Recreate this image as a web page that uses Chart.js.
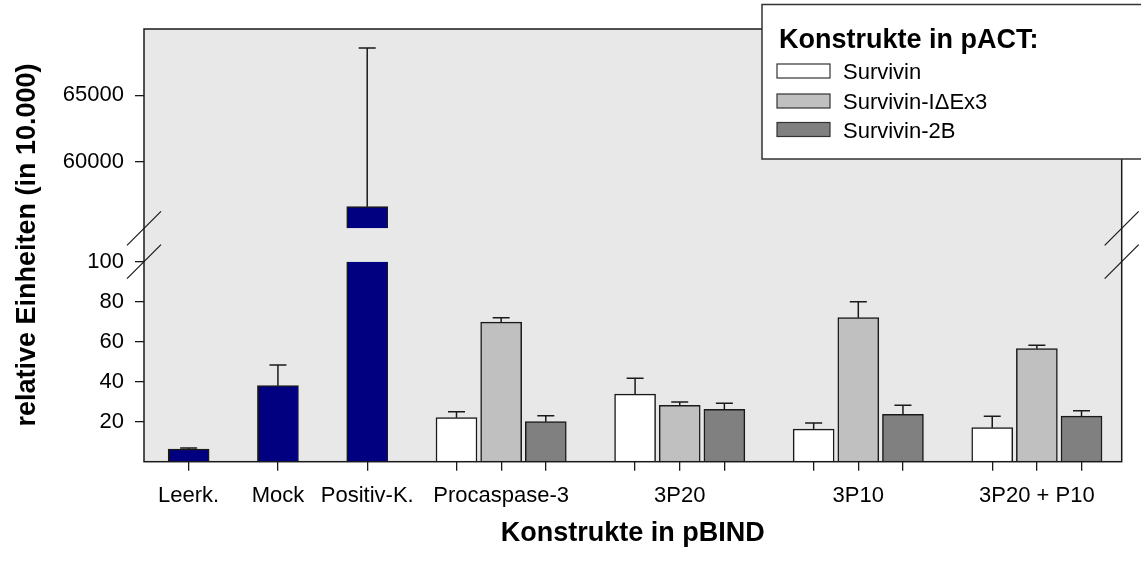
<!DOCTYPE html>
<html>
<head>
<meta charset="utf-8">
<script src="https://cdn.jsdelivr.net/npm/chart.js@4.4.1/dist/chart.umd.min.js"></script>
<style>
  html, body { margin: 0; padding: 0; background: #fff; overflow: hidden; }
  #wrap { width: 1141px; height: 565px; position: relative; }
</style>
</head>
<body>
<div id="wrap"><canvas id="c" width="1141" height="565"></canvas></div>
<script>
// Control constructs (single bars)
const controlLabels = ['Leerk.', 'Mock', 'Positiv-K.'];
const controlValues = [6.3, 38.0, 56630];
const controlErrors = [0.5, 10.3, 11940];

// pBIND constructs tested against three pACT partners
const groupLabels = ['Procaspase-3', '3P20', '3P10', '3P20 + P10'];
const seriesNames = ['Survivin', 'Survivin-I\u0394Ex3', 'Survivin-2B'];
const survivin        = [22.0, 33.8, 16.3, 17.0];
const survivinDEx3    = [69.8, 28.2, 72.0, 56.5];
const survivin2B      = [20.0, 26.2, 23.7, 22.8];
const survivinErr     = [3.0, 7.9, 3.0, 5.7];
const survivinDEx3Err = [2.2, 1.6, 8.0, 1.7];
const survivin2BErr   = [3.0, 3.0, 4.5, 2.7];

// Tick values of the two y segments
const lowerTicks = [20, 40, 60, 80, 100];
const upperTicks = [60000, 65000];

// ---- styling ----
const FONT = "'Liberation Sans', Arial, Helvetica, sans-serif";
const INK = '#1a1a1a';
const PLOT_BG = '#e8e8e8';
const controlColor = '#000080';
const seriesColors = ['#ffffff', '#c0c0c0', '#808080'];
const seriesValues = [survivin, survivinDEx3, survivin2B];
const seriesErrors = [survivinErr, survivinDEx3Err, survivin2BErr];

// slot layout on the x axis: controls every other slot, then groups of three
const controlSlot = i => 2 * i;
const groupSlot = (g, s) => 6 + 4 * g + s;

const barSlots = [];
const labelAt = new Map();
controlLabels.forEach((l, i) => { barSlots.push(controlSlot(i)); labelAt.set(controlSlot(i), l); });
groupLabels.forEach((l, g) => {
  for (let s = 0; s < 3; s++) barSlots.push(groupSlot(g, s));
  labelAt.set(groupSlot(g, 1), l);
});

function makeDatasets(axisId) {
  const sets = [{
    label: 'Kontrollen',
    yAxisID: axisId,
    data: controlValues.map((v, i) => ({ x: controlSlot(i), y: v })),
    errors: controlErrors,
    backgroundColor: controlColor
  }];
  seriesNames.forEach((name, s) => {
    sets.push({
      label: name,
      yAxisID: axisId,
      data: seriesValues[s].map((v, g) => ({ x: groupSlot(g, s), y: v })),
      errors: seriesErrors[s],
      backgroundColor: seriesColors[s]
    });
  });
  return sets;
}

const tickFont = { family: FONT, size: 22 };
const titleFont = { family: FONT, size: 27, weight: 'bold' };

// Each bar is drawn on both segments of the broken axis and clipped to its segment
const segmentClip = {
  id: 'segmentClip',
  beforeDatasetDraw(chart, args) {
    const ctx = chart.ctx;
    const ys = chart.scales[args.meta.yAxisID];
    const a = chart.chartArea;
    ctx.save();
    ctx.beginPath();
    ctx.rect(a.left, ys.top, a.right - a.left, ys.bottom - ys.top);
    ctx.clip();
  },
  afterDatasetDraw(chart, args) {
    const ctx = chart.ctx;
    const meta = args.meta;
    const ds = chart.data.datasets[args.index];
    const ys = chart.scales[meta.yAxisID];
    ctx.strokeStyle = INK;
    ctx.lineWidth = 1.5;
    meta.data.forEach((bar, i) => {
      const pt = ds.data[i];
      const yTop = ys.getPixelForValue(pt.y + ds.errors[i]);
      ctx.beginPath();
      ctx.moveTo(bar.x, bar.y);
      ctx.lineTo(bar.x, yTop);
      ctx.moveTo(bar.x - 8.5, yTop);
      ctx.lineTo(bar.x + 8.5, yTop);
      ctx.stroke();
    });
    ctx.restore();
  }
};

const plotBackground = {
  id: 'plotBackground',
  beforeDraw(chart) {
    const { ctx, chartArea: a } = chart;
    ctx.save();
    ctx.fillStyle = '#ffffff';
    ctx.fillRect(0, 0, chart.width, chart.height);
    ctx.fillStyle = PLOT_BG;
    ctx.fillRect(a.left, a.top, a.right - a.left, a.bottom - a.top);
    ctx.restore();
  }
};

const frameAndLegend = {
  id: 'frameAndLegend',
  afterDraw(chart) {
    const { ctx, chartArea: a } = chart;
    ctx.save();
    // plot frame
    ctx.strokeStyle = INK;
    ctx.lineWidth = 1.5;
    ctx.strokeRect(a.left, a.top, a.right - a.left, a.bottom - a.top);

    // axis break marks on both sides
    const breaks = [chart.scales.yUpper.bottom, chart.scales.y.top];
    ctx.lineWidth = 1.2;
    [a.left, a.right].forEach(x => {
      breaks.forEach(y => {
        ctx.beginPath();
        ctx.moveTo(x - 17, y + 17);
        ctx.lineTo(x + 17, y - 17);
        ctx.stroke();
      });
    });

    // legend box
    const bx = 762, by = 4.5, bw = 400, bh = 154.5;
    ctx.fillStyle = '#ffffff';
    ctx.fillRect(bx, by, bw, bh);
    ctx.strokeStyle = '#333333';
    ctx.lineWidth = 1.5;
    ctx.strokeRect(bx, by, bw, bh);

    ctx.fillStyle = '#000';
    ctx.textBaseline = 'alphabetic';
    ctx.textAlign = 'left';
    ctx.font = 'bold 27px ' + FONT;
    ctx.fillText('Konstrukte in pACT:', 779, 48);

    ctx.font = '22px ' + FONT;
    const baselines = [79, 109, 137.5];
    seriesNames.forEach((name, s) => {
      const yb = baselines[s];
      ctx.fillStyle = seriesColors[s];
      ctx.fillRect(777, yb - 15, 53, 14);
      ctx.strokeStyle = '#333333';
      ctx.lineWidth = 1.2;
      ctx.strokeRect(777, yb - 15, 53, 14);
      ctx.fillStyle = '#000';
      ctx.fillText(name, 843, yb);
    });
    ctx.restore();
  }
};

const yTickGrid = { drawOnChartArea: false, drawTicks: true, tickLength: 9, color: INK, lineWidth: 1.3 };

new Chart(document.getElementById('c'), {
  type: 'bar',
  data: { datasets: [...makeDatasets('yUpper'), ...makeDatasets('y')] },
  options: {
    responsive: false,
    devicePixelRatio: 1,
    animation: false,
    events: [],
    layout: { padding: { top: 29, right: 19.3, left: 0, bottom: 0 } },
    datasets: {
      bar: {
        grouped: false,
        barThickness: 41,
        borderColor: INK,
        borderWidth: 1.5,
        borderSkipped: 'start'
      }
    },
    plugins: { legend: { display: false }, tooltip: { enabled: false } },
    scales: {
      x: {
        type: 'linear',
        min: -1,
        max: 20.9,
        offset: false,
        afterBuildTicks: s => { s.ticks = barSlots.map(v => ({ value: v })); },
        afterFit: s => { s.height = 103.3; },
        ticks: {
          autoSkip: false,
          maxRotation: 0,
          minRotation: 0,
          padding: 12.5,
          color: '#000',
          font: tickFont,
          callback: v => labelAt.get(v) || ''
        },
        grid: { offset: false, drawOnChartArea: false, drawTicks: true, tickLength: 9, color: INK, lineWidth: 1.3 },
        border: { display: false },
        title: {
          display: true,
          text: 'Konstrukte in pBIND',
          color: '#000',
          font: titleFont,
          padding: { top: 0, bottom: 15 }
        }
      },
      yUpper: {
        type: 'linear',
        position: 'left',
        stack: 'yaxis',
        stackWeight: 199.3,
        weight: 3,
        min: 55000,
        max: 70000,
        afterBuildTicks: s => { s.ticks = upperTicks.map(v => ({ value: v })); },
        afterFit: s => { s.width = 144; },
        ticks: { padding: 11, color: '#000', font: tickFont, callback: v => String(v) },
        grid: yTickGrid,
        border: { display: false }
      },
      yGap: {
        type: 'linear',
        position: 'left',
        stack: 'yaxis',
        stackWeight: 33.4,
        weight: 2,
        min: 0,
        max: 1,
        afterFit: s => { s.width = 144; },
        ticks: { display: false },
        grid: { display: false },
        border: { display: false },
        title: {
          display: true,
          text: 'relative Einheiten (in 10.000)',
          color: '#000',
          font: titleFont,
          padding: { top: 11, bottom: 0 }
        }
      },
      y: {
        type: 'linear',
        position: 'left',
        stack: 'yaxis',
        stackWeight: 200,
        weight: 1,
        min: 0,
        max: 100,
        afterBuildTicks: s => { s.ticks = lowerTicks.map(v => ({ value: v })); },
        afterFit: s => { s.width = 144; },
        ticks: { padding: 11, color: '#000', font: tickFont, callback: v => String(v) },
        grid: yTickGrid,
        border: { display: false }
      }
    }
  },
  plugins: [plotBackground, segmentClip, frameAndLegend]
});
</script>
</body>
</html>
